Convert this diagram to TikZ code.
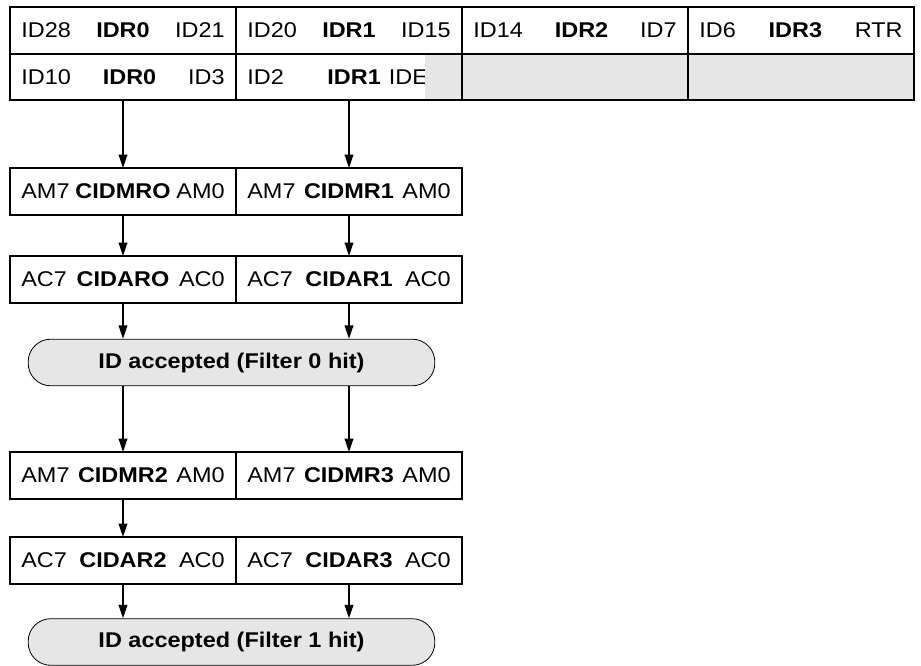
\documentclass[tikz,border=0pt]{standalone}
\usepackage{fontspec}
\setmainfont{Liberation Sans}[FakeStretch=1.1]
\usetikzlibrary{arrows.meta,positioning}
\definecolor{Shade}{HTML}{E6E6E6}
\newcommand{\regtext}[3]{#1\hfill\textbf{#2}\hfill #3}
\tikzset{
  cell/.style={
    draw, line width=1.5pt, outer sep=0pt, inner xsep=8.5pt, inner ysep=0pt,
    text width=152.5pt, minimum height=35pt, font=\fontsize{16}{19}\selectfont
  },
  blank/.style={cell, fill=Shade},
  patch/.style={
    fill=Shade, outer sep=0pt, inner sep=0pt,
    minimum width=27pt, minimum height=33.5pt
  },
  verdict/.style={
    draw, line width=0.6pt, fill=Shade, rounded corners=17pt,
    minimum width=305pt, minimum height=35pt,
    font=\fontsize{16}{19}\selectfont\bfseries
  },
  flow/.style={-{Triangle[length=10pt,width=6.5pt]}, line width=1.1pt}
}
\begin{document}
\begin{tikzpicture}[x=0.75pt,y=-0.75pt]
    \useasboundingbox (0,0) rectangle (921,666);
    % identifier registers
    \node[cell,anchor=north west] (idr0a) at (10,7) {\regtext{ID28}{IDR0}{ID21}};
    \node[cell,right=0pt of idr0a] (idr1a) {\regtext{ID20}{IDR1}{ID15}};
    \node[cell,right=0pt of idr1a] (idr2a) {\regtext{ID14}{IDR2}{ID7}};
    \node[cell,right=0pt of idr2a] (idr3a) {\regtext{ID6}{IDR3}{RTR}};
    \node[cell,below=0pt of idr0a] (idr0b) {\regtext{ID10}{IDR0}{ID3}};
    \node[cell,below=0pt of idr1a] (idr1b)
      {ID2\hfill\textbf{IDR1}\hspace{6pt}IDE\rule{17pt}{0pt}};
    \node[patch,anchor=north east] (idpad)
      at ([xshift=-0.75pt,yshift=-0.75pt]idr1b.north east) {};
    \node[blank,below=0pt of idr2a] (idr2b) {};
    \node[blank,below=0pt of idr3a] (idr3b) {};
    % filter 0
    \node[cell,anchor=north west] (cidmr0) at (10,168) {\regtext{AM7}{CIDMRO}{AM0}};
    \node[cell,right=0pt of cidmr0] (cidmr1) {\regtext{AM7}{CIDMR1}{AM0}};
    \node[cell,anchor=north west] (cidar0) at (10,256) {\regtext{AC7}{CIDARO}{AC0}};
    \node[cell,right=0pt of cidar0] (cidar1) {\regtext{AC7}{CIDAR1}{AC0}};
    \node[verdict] (hit0) at (231.5,362.5) {ID accepted (Filter 0 hit)};
    % filter 1
    \node[cell,anchor=north west] (cidmr2) at (10,452) {\regtext{AM7}{CIDMR2}{AM0}};
    \node[cell,right=0pt of cidmr2] (cidmr3) {\regtext{AM7}{CIDMR3}{AM0}};
    \node[cell,anchor=north west] (cidar2) at (10,537) {\regtext{AC7}{CIDAR2}{AC0}};
    \node[cell,right=0pt of cidar2] (cidar3) {\regtext{AC7}{CIDAR3}{AC0}};
    \node[verdict] (hit1) at (231.5,642) {ID accepted (Filter 1 hit)};
    % connectors
    \draw[flow] (idr0b.south) -- (cidmr0.north);
    \draw[flow] (idr1b.south) -- (cidmr1.north);
    \draw[flow] (cidmr0.south) -- (cidar0.north);
    \draw[flow] (cidmr1.south) -- (cidar1.north);
    \draw[flow] (cidar0.south) -- (cidar0.south |- hit0.north);
    \draw[flow] (cidar1.south) -- (cidar1.south |- hit0.north);
    \draw[flow] (cidmr2.north |- hit0.south) -- (cidmr2.north);
    \draw[flow] (cidmr3.north |- hit0.south) -- (cidmr3.north);
    \draw[flow] (cidmr2.south) -- (cidar2.north);
    \draw[flow] (cidar2.south) -- (cidar2.south |- hit1.north);
    \draw[flow] (cidar3.south) -- (cidar3.south |- hit1.north);
\end{tikzpicture}
\end{document}
